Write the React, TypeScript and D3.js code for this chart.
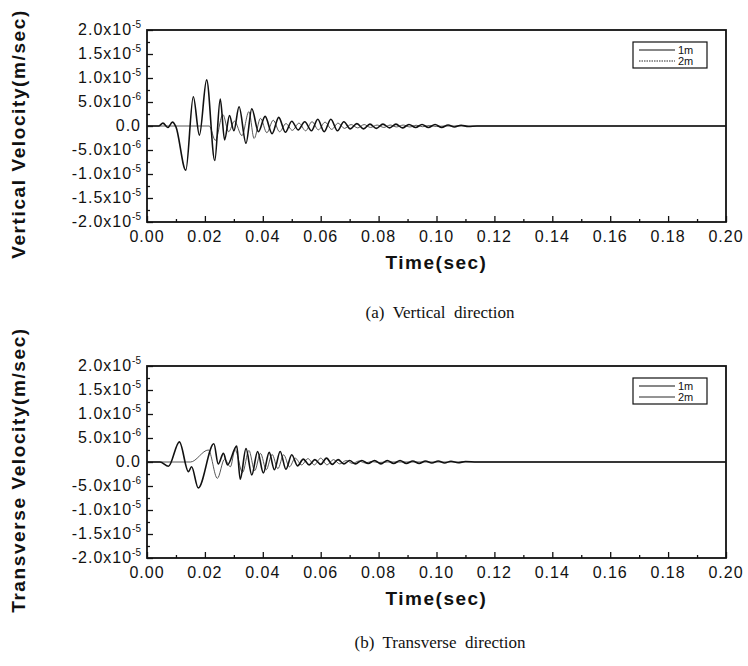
import React, { useEffect, useRef } from "react";
import * as d3 from "d3";

// peaks / troughs: time (sec), velocity (x1e-6 m/sec)
const vert1mT = [0, 0.004, 0.0055, 0.0072, 0.0088, 0.01, 0.0134, 0.016, 0.0181, 0.0206, 0.0234, 0.0253, 0.0268, 0.0285, 0.03, 0.0318, 0.0342, 0.0362, 0.0385, 0.0408, 0.0432, 0.0455, 0.0478, 0.05, 0.0522, 0.0545, 0.0568, 0.059, 0.0612, 0.0635, 0.0658, 0.068, 0.0702, 0.0725, 0.0748, 0.077, 0.0792, 0.0815, 0.0838, 0.086, 0.0882, 0.0905, 0.0928, 0.095, 0.0972, 0.0995, 0.1018, 0.104, 0.1062, 0.1085, 0.111, 0.114, 0.2];
const vert1mV = [0, 0, 0.6, -0.3, 0.8, -0.2, -9.2, 6.1, -1.9, 9.6, -7.2, 5.6, -2.9, 2.2, -1.0, 4.0, -3.6, 3.6, -1.2, 2.0, -1.6, 1.8, -1.3, 1.0, -0.8, 0.9, -1.0, 1.4, -1.2, 1.4, -1.0, 0.9, -0.6, 0.5, -0.6, 0.4, -0.5, 0.4, -0.4, 0.4, -0.4, 0.3, -0.3, 0.3, -0.3, 0.3, -0.3, 0.2, -0.2, 0.15, -0.1, 0, 0];

const vert2mT = [0, 0.0215, 0.0236, 0.0262, 0.0282, 0.0302, 0.0328, 0.0352, 0.037, 0.0392, 0.0414, 0.0436, 0.0458, 0.048, 0.0502, 0.0525, 0.0548, 0.057, 0.0592, 0.0615, 0.0638, 0.066, 0.0682, 0.0705, 0.0728, 0.075, 0.0772, 0.0795, 0.0818, 0.084, 0.0862, 0.0885, 0.0908, 0.093, 0.0952, 0.0975, 0.1, 0.103, 0.2];
const vert2mV = [0, 0, -3.0, 2.4, -1.2, 1.0, -2.0, 3.0, -2.6, 1.6, -1.4, 1.2, -1.2, 0.5, -0.9, 0.6, -1.0, 0.9, -0.8, 0.8, -0.7, 0.6, -0.5, 0.3, -0.4, 0.3, -0.3, 0.2, -0.3, 0.2, -0.2, 0.2, -0.2, 0.15, -0.15, 0.1, -0.1, 0, 0];

const trans1mT = [0, 0.0045, 0.0074, 0.0112, 0.0143, 0.0154, 0.0177, 0.0231, 0.0246, 0.0264, 0.0278, 0.031, 0.0322, 0.0342, 0.0362, 0.0382, 0.0402, 0.0422, 0.044, 0.046, 0.048, 0.05, 0.052, 0.054, 0.056, 0.058, 0.06, 0.062, 0.064, 0.066, 0.068, 0.07, 0.072, 0.0742, 0.0764, 0.0786, 0.0808, 0.083, 0.0852, 0.0874, 0.0896, 0.0918, 0.094, 0.0962, 0.0984, 0.1006, 0.1028, 0.105, 0.1075, 0.11, 0.114, 0.2];
const trans1mV = [0, 0, -0.9, 4.2, -2.0, -1.0, -5.4, 3.8, -0.4, 1.8, -0.6, 3.3, -3.6, 2.8, -2.7, 2.2, -2.3, 2.0, -1.6, 2.2, -1.5, 1.5, -0.8, 0.6, -0.6, 0.5, -0.5, 0.8, -0.5, 0.5, -0.4, 0.3, -0.4, 0.3, -0.3, 0.3, -0.4, 0.3, -0.3, 0.3, -0.3, 0.2, -0.3, 0.2, -0.2, 0.2, -0.2, 0.15, -0.15, 0.1, 0, 0];

const trans2mT = [0, 0.015, 0.0212, 0.0243, 0.0268, 0.0288, 0.0304, 0.033, 0.0352, 0.0372, 0.0392, 0.0412, 0.0432, 0.0452, 0.0472, 0.0492, 0.0512, 0.0534, 0.0556, 0.0578, 0.06, 0.0622, 0.0644, 0.0666, 0.0688, 0.071, 0.0732, 0.0754, 0.0776, 0.08, 0.083, 0.2];
const trans2mV = [0, 0, 2.5, -3.4, 0.6, -1.0, 2.6, -2.2, 2.4, -1.8, 1.8, -1.6, 1.6, -1.4, 1.5, -1.0, 0.8, -0.6, 0.7, -0.6, 0.8, -0.6, 0.5, -0.4, 0.3, -0.3, 0.2, -0.2, 0.1, -0.1, 0, 0];

const xMajor = [0, 0.02, 0.04, 0.06, 0.08, 0.1, 0.12, 0.14, 0.16, 0.18, 0.2];
const xLabels = ["0.00", "0.02", "0.04", "0.06", "0.08", "0.10", "0.12", "0.14", "0.16", "0.18", "0.20"];
const xMinor = [0.01, 0.03, 0.05, 0.07, 0.09, 0.11, 0.13, 0.15, 0.17, 0.19];
const yMajor = [20, 15, 10, 5, 0, -5, -10, -15, -20];
const yMant = ["2.0", "1.5", "1.0", "5.0", "0.0", "-5.0", "-1.0", "-1.5", "-2.0"];
const yExp = ["-5", "-5", "-5", "-6", "", "-6", "-5", "-5", "-5"];
const yMinor = [17.5, 12.5, 7.5, 2.5, -2.5, -7.5, -12.5, -17.5];
const seriesNames = ["1m", "2m"];

const W = 748;
const H = 666;
const font = "Arial, 'Liberation Sans', sans-serif";

const panels = [
  {
    top: 30, bottom: 222, yTitle: "Vertical Velocity(m/sec)", caption: "(a)  Vertical  direction", captionY: 318,
    s1: { t: vert1mT, v: vert1mV }, s2: { t: vert2mT, v: vert2mV }, dotted: true,
  },
  {
    top: 366, bottom: 558, yTitle: "Transverse Velocity(m/sec)", caption: "(b)  Transverse  direction", captionY: 648,
    s1: { t: trans1mT, v: trans1mV }, s2: { t: trans2mT, v: trans2mV }, dotted: false,
  },
];

export default function App() {
  const ref = useRef<SVGSVGElement>(null);

  useEffect(() => {
    const svg = d3.select(ref.current);
    svg.selectAll("*").remove();
    const left = 147;
    const right = 726;

    panels.forEach((p) => {
      const g = svg.append("g");
      const x = d3.scaleLinear().domain([0, 0.2]).range([left, right]);
      const y = d3.scaleLinear().domain([-20, 20]).range([p.bottom, p.top]);

      // ticks, pointing in
      const ax = (sel, axis) => {
        sel.call(axis);
        sel.select(".domain").remove();
        sel.selectAll("line").attr("stroke", "#111").attr("stroke-width", 1.3);
      };
      g.append("g").attr("transform", `translate(0,${p.bottom})`)
        .call((s) => ax(s, d3.axisBottom(x).tickValues(xMajor).tickSize(-6).tickFormat(() => "")));
      g.append("g").attr("transform", `translate(0,${p.bottom})`)
        .call((s) => ax(s, d3.axisBottom(x).tickValues(xMinor).tickSize(-3).tickFormat(() => "")));
      g.append("g").attr("transform", `translate(${left},0)`)
        .call((s) => ax(s, d3.axisLeft(y).tickValues(yMajor).tickSize(-6).tickFormat(() => "")));
      g.append("g").attr("transform", `translate(${left},0)`)
        .call((s) => ax(s, d3.axisLeft(y).tickValues(yMinor).tickSize(-3).tickFormat(() => "")));

      g.append("rect")
        .attr("x", left).attr("y", p.top)
        .attr("width", right - left).attr("height", p.bottom - p.top)
        .attr("fill", "none").attr("stroke", "#111").attr("stroke-width", 1.8);

      // x labels
      g.selectAll(".xl").data(xMajor).enter().append("text")
        .attr("x", (d) => x(d)).attr("y", p.bottom + 20)
        .attr("text-anchor", "middle")
        .attr("font-family", font).attr("font-size", 16).attr("letter-spacing", 1)
        .attr("fill", "#111")
        .text((d, i) => xLabels[i]);

      // y labels with superscript exponent
      yMajor.forEach((d, i) => {
        const t = g.append("text")
          .attr("x", left - 6).attr("y", y(d) + 5)
          .attr("text-anchor", "end")
          .attr("font-family", font).attr("font-size", 16).attr("letter-spacing", 1)
          .attr("fill", "#111");
        if (yExp[i]) {
          t.append("tspan").text(yMant[i] + "x10");
          t.append("tspan").attr("dy", -7).attr("font-size", 10).attr("letter-spacing", 0).text(yExp[i]);
        } else {
          t.text(yMant[i]);
        }
      });

      g.append("text")
        .attr("x", (left + right) / 2).attr("y", p.bottom + 47)
        .attr("text-anchor", "middle")
        .attr("font-family", font).attr("font-size", 19).attr("font-weight", "bold").attr("letter-spacing", 1.5)
        .attr("fill", "#111").text("Time(sec)");

      g.append("text")
        .attr("transform", `translate(25,${(p.top + p.bottom) / 2 + 8}) rotate(-90)`)
        .attr("text-anchor", "middle")
        .attr("font-family", font).attr("font-size", 19).attr("font-weight", "bold").attr("letter-spacing", 1.6)
        .attr("fill", "#111").text(p.yTitle);

      g.append("text")
        .attr("x", 440).attr("y", p.captionY)
        .attr("text-anchor", "middle")
        .attr("font-family", "'Liberation Serif', 'Times New Roman', serif").attr("font-size", 17)
        .attr("fill", "#111").style("white-space", "pre").text(p.caption);

      const path = (s) => {
        const pts = s.t.map((t, i) => [x(t), y(s.v[i])] as [number, number]);
        return d3.line().curve(d3.curveMonotoneX)(pts);
      };

      g.append("path").attr("d", path(p.s2)).attr("fill", "none")
        .attr("stroke", "#444").attr("stroke-width", 0.9);
      g.append("path").attr("d", path(p.s1)).attr("fill", "none")
        .attr("stroke", "#111").attr("stroke-width", 1.6);

      // legend
      const lx = 633;
      const ly = p.top + 12;
      g.append("rect").attr("x", lx).attr("y", ly).attr("width", 74).attr("height", 26)
        .attr("fill", "white").attr("stroke", "#111").attr("stroke-width", 1.2);
      seriesNames.forEach((n, i) => {
        const yy = ly + 8 + i * 11;
        g.append("line").attr("x1", lx + 6).attr("x2", lx + 42).attr("y1", yy).attr("y2", yy)
          .attr("stroke", "#111").attr("stroke-width", i === 0 ? 1.2 : 0.9)
          .attr("stroke-dasharray", i === 1 && p.dotted ? "1.5,1" : null);
        g.append("text").attr("x", lx + 45).attr("y", yy + 4)
          .attr("font-family", font).attr("font-size", 11).attr("fill", "#111").text(n);
      });
    });
  }, []);

  return (
    <svg
      ref={ref}
      width={W}
      height={H}
      style={{ position: "absolute", left: 0, top: 0, background: "white" }}
    />
  );
}
